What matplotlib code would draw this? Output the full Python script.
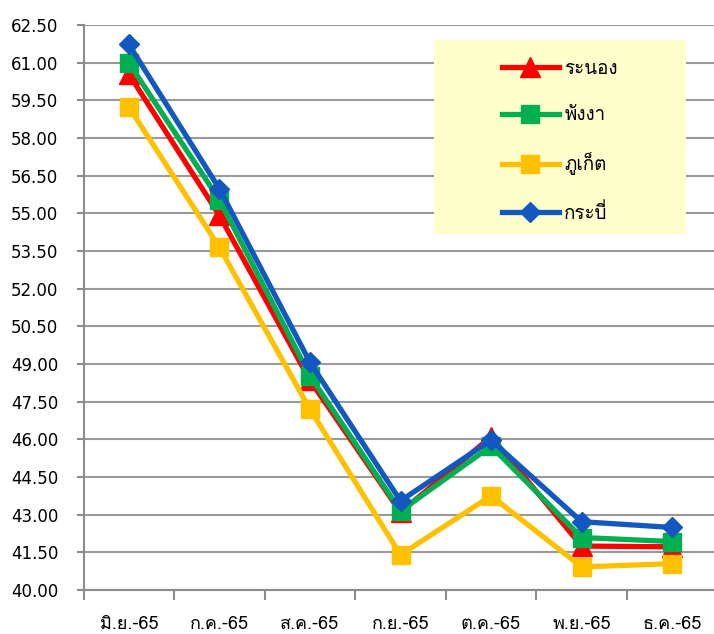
import matplotlib
matplotlib.use("Agg")
import matplotlib.pyplot as plt
from matplotlib import font_manager
from matplotlib.ft2font import FT2Font
from matplotlib.patches import Rectangle

months = ["มิ.ย.-65", "ก.ค.-65", "ส.ค.-65", "ก.ย.-65", "ต.ค.-65", "พ.ย.-65", "ธ.ค.-65"]
ranong = [60.55, 54.92, 48.35, 43.10, 46.10, 41.75, 41.72]
phangnga = [60.99, 55.54, 48.53, 43.15, 45.73, 42.09, 41.93]
phuket = [59.24, 53.65, 47.20, 41.40, 43.75, 40.92, 41.05]
krabi = [61.73, 55.98, 49.07, 43.55, 45.97, 42.72, 42.49]

series = [
    ("ระนอง", ranong, "#FF0000", "^", 14),
    ("พังงา", phangnga, "#00B050", "s", 13),
    ("ภูเก็ต", phuket, "#FFC000", "s", 13),
    ("กระบี่", krabi, "#1358C0", "D", 10),
]


def find_thai_font():
    # pick the first installed font that has Thai glyphs
    for f in font_manager.fontManager.ttflist:
        try:
            if 0x0E23 in FT2Font(f.fname).get_charmap():
                return f.name
        except Exception:
            pass
    return None


thai = find_thai_font()
fams = [thai, "DejaVu Sans"] if thai else ["DejaVu Sans"]
plt.rcParams["font.family"] = fams

W, H = 714, 634
fig = plt.figure(figsize=(W / 100, H / 100), dpi=100)
ax = fig.add_axes([83.5 / W, 1 - 590 / H, 634 / W, (590 - 25) / H])

x = list(range(len(months)))
for name, vals, col, mk, ms in series:
    ax.plot(x, vals, color=col, lw=3.8, marker=mk, ms=ms, label=name,
            solid_joinstyle="miter")

ax.set_xlim(-0.5, 6.5)
ax.set_ylim(40, 62.5)
yt = [40 + 1.5 * i for i in range(16)]
ax.set_yticks(yt)
ax.set_yticklabels([f"{v:.2f}" for v in yt], family="DejaVu Sans", fontsize=12)
ax.set_xticks(x)
ax.set_xticklabels(months, fontsize=13)
ax.set_xticks([i - 0.5 for i in range(8)], minor=True)
ax.tick_params(axis="x", which="major", length=0, pad=18)
ax.tick_params(axis="x", which="minor", length=7, width=1.5, color="#8c8c8c")
ax.tick_params(axis="y", length=5, width=1.5, color="#8c8c8c", pad=13)

ax.grid(axis="y", color="#9a9a9a", lw=1.5)
ax.set_axisbelow(True)
for s in ["top", "right"]:
    ax.spines[s].set_visible(False)
for s in ["left", "bottom"]:
    ax.spines[s].set_color("#8c8c8c")
    ax.spines[s].set_linewidth(1.5)

# legend box
fig.patches.append(Rectangle((434 / W, 1 - 234 / H), 252 / W, 194 / H,
                             transform=fig.transFigure, facecolor="#FFFFCC",
                             edgecolor="none", zorder=5))
leg = fig.legend(loc="center", bbox_to_anchor=(560 / W, 1 - 141.5 / H),
                 frameon=False, fontsize=13.5, handlelength=3, handletextpad=0.3,
                 labelspacing=1.5)
leg.set_zorder(6)

fig.savefig("out.png", dpi=100)
